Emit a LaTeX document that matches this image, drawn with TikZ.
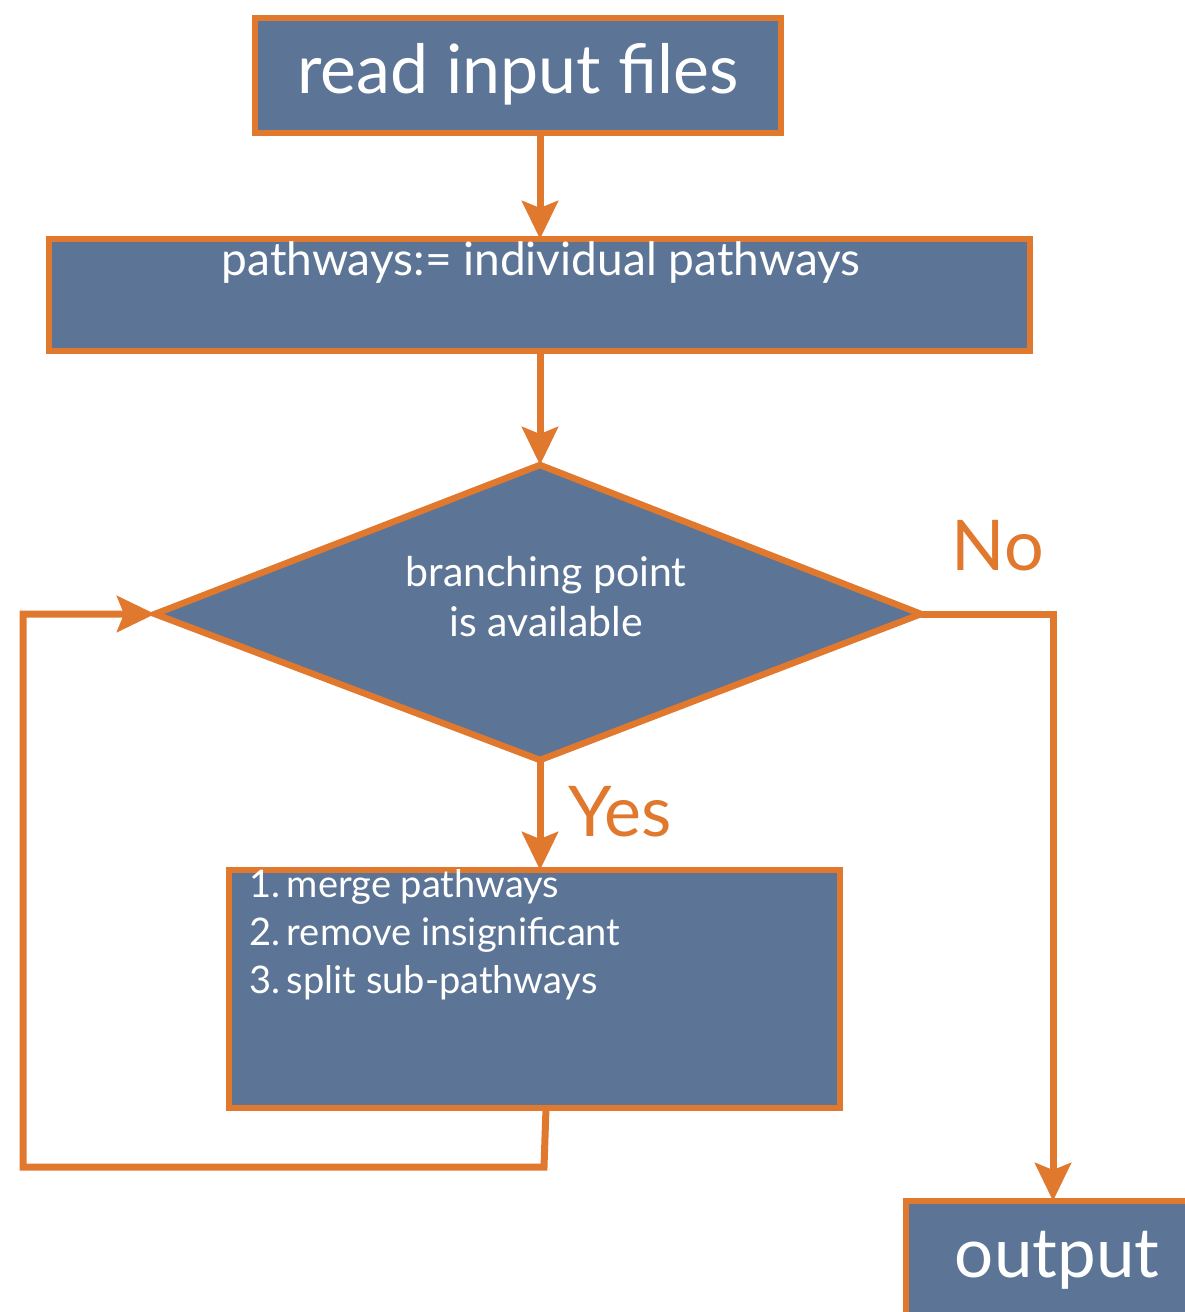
\documentclass[tikz,border=0pt]{standalone}
\usepackage{fontspec}
\setmainfont{Lato}
\usetikzlibrary{arrows.meta,shapes.geometric}
\definecolor{boxblue}{RGB}{92,117,150}
\definecolor{flowor}{RGB}{224,120,46}
\tikzset{
  stepbox/.style={draw=flowor, fill=boxblue, line width=6.5pt, inner sep=0pt, text=white},
  flow/.style={draw=flowor, line width=7pt, -{Stealth[length=38pt,width=36pt,inset=7pt]}},
  lbl/.style={text=flowor, font=\fontsize{70}{70}\selectfont}
}
\begin{document}
\begin{tikzpicture}[x=1pt,y=-1pt]
\useasboundingbox (0,0) rectangle (1184,1312);
% boxes
\path[stepbox] (255,18) rectangle (781,133);
\node[text=white, font=\fontsize{68}{68}\selectfont] (read) at (518,74) {read input files};
\coordinate (readb) at (540,133);

\path[stepbox] (49,239) rectangle (1030,351);
\coordinate (pwt) at (540,239);
\coordinate (pwb) at (540,351);
\node[text=white, font=\fontsize{46}{46}\selectfont] (pw) at (541,262) {pathways:= individual pathways};

\path[stepbox] (540,465) -- (921,614) -- (540,760) -- (155,614) -- cycle;
\coordinate (dtop) at (540,465);
\coordinate (dright) at (921,614);
\coordinate (dbot) at (540,760);
\coordinate (dleft) at (155,614);
\node[text=white, font=\fontsize{41}{50}\selectfont, align=center] (cond) at (546,597) {branching point\\is available};

\path[stepbox] (229,870) rectangle (840,1108);
\coordinate (stept) at (540,870);
\coordinate (stepb) at (546,1108);
\node[text=white, font=\fontsize{38}{48}\selectfont, align=left, anchor=north west] (steps) at (246,866)
  {1.\,merge pathways\\2.\,remove insignificant\\3.\,split sub-pathways};

\path[stepbox] (906,1201) rectangle (1200,1330);
\coordinate (outt) at (1053,1201);
\node[text=white, font=\fontsize{69}{69}\selectfont] (out) at (1057,1260) {output};

% connectors
\draw[flow] (readb) -- (pwt);
\draw[flow] (pwb) -- (dtop);
\draw[flow] (dbot) -- (stept);
\draw[flow] (dright) -- (1053,614) -- (outt);
\coordinate (lc1) at (544,1167);
\coordinate (lc2) at (23,1167);
\coordinate (lc3) at (23,614);
\draw[flow] (stepb) -- (lc1) -- (lc2) -- (lc3) -- (dleft);

% labels
\node[lbl] (no) at (998,546) {No};
\node[lbl] (yes) at (620,812) {Yes};
\end{tikzpicture}
\end{document}
